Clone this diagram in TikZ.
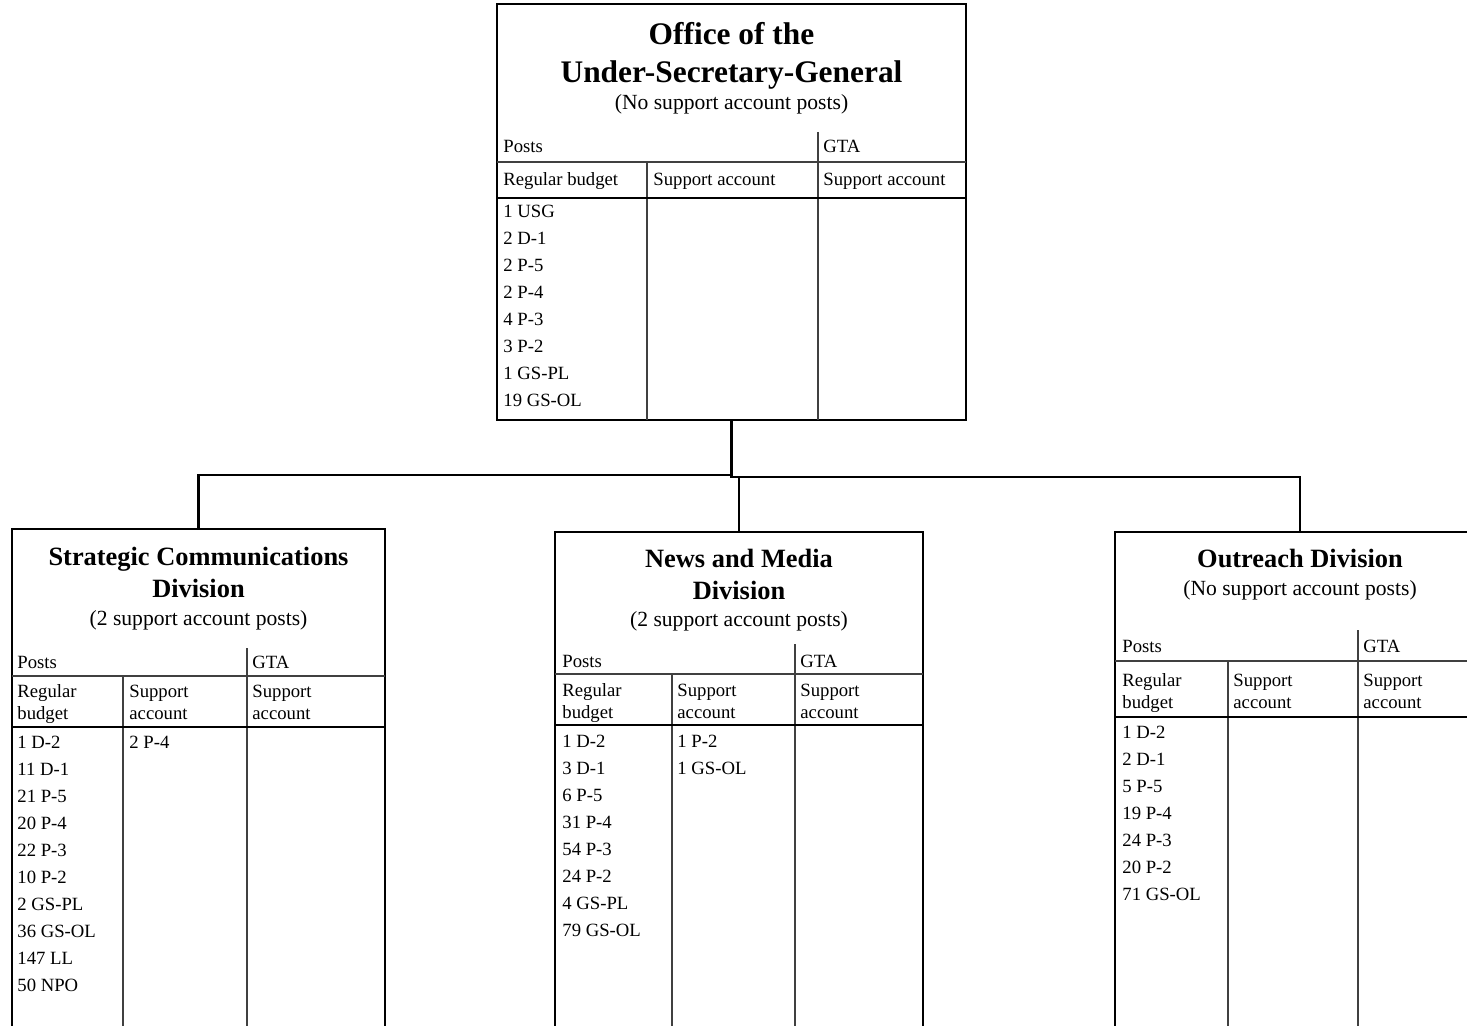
\documentclass[tikz,border=0pt]{standalone}
\usepackage{fontspec}
\setmainfont{Liberation Serif}
\newcommand\tabfont{\fontsize{9.35}{11.5}\selectfont}
\newcommand\subfont{\fontsize{10.8}{13}\selectfont}
\newcommand\bigtitlefont{\fontsize{15.7}{19}\selectfont\bfseries}
\newcommand\divtitlefont{\fontsize{13.2}{16}\selectfont\bfseries}
\begin{document}
\begin{tikzpicture}[x=0.5pt,y=-0.5pt,
  unitbox/.style={draw, line width=1.25pt, inner sep=0, outer sep=0, fill=none},
  conn/.style={line width=1.25pt},
  thin/.style={line width=0.6pt, black!75},
  rule/.style={line width=1.2pt},
  cell/.style={inner sep=0, font=\tabfont, anchor=base west},
  ttl/.style={inner sep=0, font=\bigtitlefont, anchor=base},
  dttl/.style={inner sep=0, font=\divtitlefont, anchor=base},
  sub/.style={inner sep=0, font=\subfont, anchor=base}]
\useasboundingbox (0,0) rectangle (1467,1026);
\fill[white] (0,0) rectangle (1467,1026);
\clip (0,0) rectangle (1467,1026);

% ---------- boxes ----------
\node[unitbox, anchor=north west, minimum width=234.5pt, minimum height=208pt] (usg) at (497,4) {};
\node[unitbox, anchor=north, minimum width=186.5pt, minimum height=270pt] (scd) at (198.5,529) {};
\node[unitbox, anchor=north, minimum width=184pt, minimum height=270pt] (nmd) at (739,532) {};
\node[unitbox, anchor=north, minimum width=185pt, minimum height=270pt] (od) at (1300,532) {};

% ---------- connectors ----------
\coordinate (jl) at (731.5,475);
\coordinate (jr) at (731.5,477);
\draw[conn] (usg.south) -- (jr) -| (od.north);
\draw[conn] (jl) -| (scd.north);
\draw[conn] (nmd.north |- jr) -- (nmd.north);

% ---------- Office of the USG ----------
\draw[thin] (818,132) -- (818,420);
\draw[thin] (497,162) -- (966,162);
\draw[thin] (647,162) -- (647,420);
\draw[rule] (497,198) -- (966,198);
\node[ttl] (usg-t1) at (731.5,44.5) {Office of the};
\node[ttl] (usg-t2) at (731.5,83) {Under-Secretary-General};
\node[sub] (usg-s) at (731.5,110) {(No support account posts)};
\node[cell] (usg-p) at (503,153) {Posts};
\node[cell] (usg-g) at (823,153) {GTA};
\node[cell] (usg-h1) at (503,186) {Regular budget};
\node[cell] (usg-h2) at (653,186) {Support account};
\node[cell] (usg-h3) at (823,186) {Support account};
\foreach \t [count=\i from 0] in {1 USG,2 D-1,2 P-5,2 P-4,4 P-3,3 P-2,1 GS-PL,19 GS-OL}
  \node[cell] (usg-r\i) at (503,{218+27*\i}) {\t};

% ---------- Strategic Communications Division ----------
\draw[thin] (247,648) -- (247,1040);
\draw[thin] (12,676) -- (385,676);
\draw[thin] (123,676) -- (123,1040);
\draw[rule] (12,727) -- (385,727);
\node[dttl] (scd-t1) at (198.5,565) {Strategic Communications};
\node[dttl] (scd-t2) at (198.5,597) {Division};
\node[sub] (scd-s) at (198.5,625) {(2 support account posts)};
\node[cell] (scd-p) at (17,668) {Posts};
\node[cell] (scd-g) at (252,668) {GTA};
\node[cell] (scd-h1a) at (17,697) {Regular};
\node[cell] (scd-h1b) at (17,719) {budget};
\node[cell] (scd-h2a) at (129,697) {Support};
\node[cell] (scd-h2b) at (129,719) {account};
\node[cell] (scd-h3a) at (252,697) {Support};
\node[cell] (scd-h3b) at (252,719) {account};
\foreach \t [count=\i from 0] in {1 D-2,11 D-1,21 P-5,20 P-4,22 P-3,10 P-2,2 GS-PL,36 GS-OL,147 LL,50 NPO}
  \node[cell] (scd-r\i) at (17,{748+27*\i}) {\t};
\node[cell] (scd-sa0) at (129,748) {2 P-4};

% ---------- News and Media Division ----------
\draw[thin] (795,644) -- (795,1040);
\draw[thin] (555,674) -- (923,674);
\draw[thin] (672,674) -- (672,1040);
\draw[rule] (555,725) -- (923,725);
\node[dttl] (nmd-t1) at (739,567) {News and Media};
\node[dttl] (nmd-t2) at (739,599) {Division};
\node[sub] (nmd-s) at (739,626) {(2 support account posts)};
\node[cell] (nmd-p) at (562,667) {Posts};
\node[cell] (nmd-g) at (800,667) {GTA};
\node[cell] (nmd-h1a) at (562,696) {Regular};
\node[cell] (nmd-h1b) at (562,718) {budget};
\node[cell] (nmd-h2a) at (677,696) {Support};
\node[cell] (nmd-h2b) at (677,718) {account};
\node[cell] (nmd-h3a) at (800,696) {Support};
\node[cell] (nmd-h3b) at (800,718) {account};
\foreach \t [count=\i from 0] in {1 D-2,3 D-1,6 P-5,31 P-4,54 P-3,24 P-2,4 GS-PL,79 GS-OL}
  \node[cell] (nmd-r\i) at (562,{747+27*\i}) {\t};
\node[cell] (nmd-sa0) at (677,747) {1 P-2};
\node[cell] (nmd-sa1) at (677,774) {1 GS-OL};

% ---------- Outreach Division ----------
\draw[thin] (1358,630) -- (1358,1040);
\draw[thin] (1115,661) -- (1485,661);
\draw[thin] (1228,661) -- (1228,1040);
\draw[rule] (1115,717) -- (1485,717);
\node[dttl] (od-t1) at (1300,567) {Outreach Division};
\node[sub] (od-s) at (1300,595) {(No support account posts)};
\node[cell] (od-p) at (1122,652) {Posts};
\node[cell] (od-g) at (1363,652) {GTA};
\node[cell] (od-h1a) at (1122,686) {Regular};
\node[cell] (od-h1b) at (1122,708) {budget};
\node[cell] (od-h2a) at (1233,686) {Support};
\node[cell] (od-h2b) at (1233,708) {account};
\node[cell] (od-h3a) at (1363,686) {Support};
\node[cell] (od-h3b) at (1363,708) {account};
\foreach \t [count=\i from 0] in {1 D-2,2 D-1,5 P-5,19 P-4,24 P-3,20 P-2,71 GS-OL}
  \node[cell] (od-r\i) at (1122,{738+27*\i}) {\t};
\end{tikzpicture}
\end{document}
